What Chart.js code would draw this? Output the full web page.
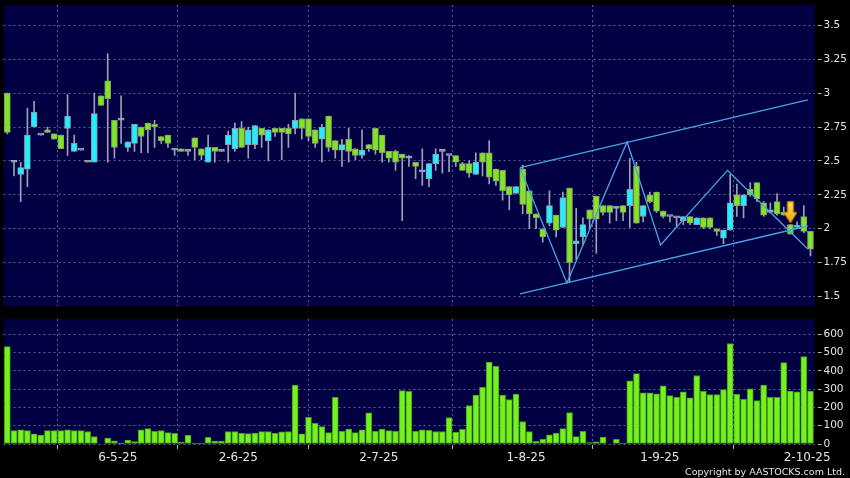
<!DOCTYPE html>
<html>
<head>
<meta charset="utf-8">
<script src="https://cdn.jsdelivr.net/npm/chart.js@4.4.1/dist/chart.umd.min.js"></script>
<style>
  html, body { margin: 0; padding: 0; background: #000; }
  body { width: 850px; height: 478px; position: relative; overflow: hidden; font-family: "DejaVu Sans", sans-serif; }
  #priceChart { position: absolute; left: 0; top: 0; }
  #volumeChart { position: absolute; left: 0; top: 312px; }
  #copyright { position: absolute; right: 5px; top: 466px; line-height: 12px; color: #e6e6e6; font-size: 9.5px; }
</style>
</head>
<body>
<canvas id="priceChart" width="850" height="306"></canvas>
<canvas id="volumeChart" width="850" height="166"></canvas>
<div id="copyright">Copyright by AASTOCKS.com Ltd.</div>
<script>
// Daily OHLC (one entry per trading day, oldest first)
const opens = [
  3.00, 2.49, 2.40, 2.44, 2.75, 2.69, 2.73, 2.70, 2.69, 2.74, 2.57, 2.58, 2.49, 2.49, 2.98, 3.09, 2.80, 2.80, 2.60, 2.63,
  2.75, 2.78, 2.77, 2.68, 2.69, 2.58, 2.59, 2.57, 2.67, 2.59, 2.49, 2.60, 2.57, 2.62, 2.59, 2.74, 2.62, 2.62, 2.74, 2.65,
  2.74, 2.74, 2.74, 2.74, 2.81, 2.81, 2.73, 2.66, 2.83, 2.65, 2.58, 2.66, 2.59, 2.54, 2.62, 2.74, 2.69, 2.57, 2.57, 2.55,
  2.52, 2.49, 2.42, 2.37, 2.48, 2.57, 2.54, 2.54, 2.48, 2.48, 2.40, 2.56, 2.56, 2.44, 2.43, 2.31, 2.26, 2.44, 2.28, 2.11,
  2.00, 2.04, 2.10, 2.01, 2.30, 1.89, 1.94, 2.14, 2.24, 2.17, 2.17, 2.15, 2.17, 2.17, 2.46, 2.09, 2.25, 2.27, 2.13, 2.09,
  2.08, 2.06, 2.09, 2.03, 2.08, 2.08, 2.00, 1.93, 1.99, 2.25, 2.17, 2.29, 2.34, 2.19, 2.12, 2.20, 2.12, 2.03, 2.01, 2.09,
  1.98
];
const highs = [
  3.00, 2.50, 2.49, 2.89, 2.94, 2.69, 2.75, 2.70, 2.69, 2.99, 2.69, 2.58, 2.49, 3.00, 2.98, 3.29, 2.80, 2.98, 2.64, 2.77,
  2.75, 2.78, 2.80, 2.68, 2.69, 2.59, 2.59, 2.57, 2.67, 2.59, 2.69, 2.60, 2.57, 2.72, 2.78, 2.79, 2.75, 2.76, 2.74, 2.73,
  2.74, 2.74, 2.77, 3.00, 2.81, 2.81, 2.73, 2.77, 2.83, 2.65, 2.66, 2.74, 2.59, 2.73, 2.62, 2.74, 2.69, 2.57, 2.58, 2.55,
  2.54, 2.49, 2.59, 2.48, 2.59, 2.57, 2.54, 2.54, 2.49, 2.50, 2.56, 2.56, 2.65, 2.44, 2.43, 2.31, 2.31, 2.47, 2.28, 2.11,
  2.00, 2.28, 2.10, 2.27, 2.30, 2.15, 2.08, 2.14, 2.24, 2.17, 2.17, 2.16, 2.17, 2.52, 2.49, 2.17, 2.27, 2.27, 2.13, 2.09,
  2.08, 2.09, 2.09, 2.08, 2.08, 2.08, 2.00, 1.99, 2.40, 2.33, 2.25, 2.34, 2.34, 2.20, 2.19, 2.26, 2.16, 2.03, 2.05, 2.17,
  1.98
];
const lows = [
  2.70, 2.39, 2.20, 2.31, 2.75, 2.69, 2.71, 2.66, 2.59, 2.54, 2.57, 2.58, 2.49, 2.49, 2.91, 2.49, 2.52, 2.63, 2.57, 2.57,
  2.56, 2.56, 2.60, 2.63, 2.60, 2.54, 2.57, 2.54, 2.51, 2.51, 2.49, 2.49, 2.57, 2.49, 2.57, 2.60, 2.52, 2.59, 2.60, 2.50,
  2.68, 2.51, 2.60, 2.70, 2.66, 2.65, 2.60, 2.49, 2.57, 2.52, 2.46, 2.49, 2.51, 2.52, 2.57, 2.55, 2.49, 2.49, 2.43, 2.06,
  2.46, 2.37, 2.32, 2.31, 2.43, 2.41, 2.42, 2.46, 2.43, 2.38, 2.40, 2.39, 2.33, 2.32, 2.21, 2.14, 2.26, 2.11, 2.00, 2.00,
  1.90, 2.02, 1.94, 2.01, 1.61, 1.77, 1.88, 2.00, 1.82, 2.10, 2.04, 2.06, 2.06, 2.01, 2.04, 2.05, 2.19, 2.12, 2.08, 2.05,
  2.01, 2.03, 2.03, 2.03, 2.00, 2.00, 1.95, 1.89, 1.99, 2.09, 2.08, 2.24, 2.20, 2.09, 2.12, 2.10, 2.10, 1.96, 2.00, 1.97,
  1.80
];
const closes = [
  2.71, 2.49, 2.45, 2.69, 2.86, 2.69, 2.71, 2.66, 2.59, 2.83, 2.63, 2.58, 2.49, 2.85, 2.91, 2.96, 2.60, 2.80, 2.64, 2.77,
  2.68, 2.73, 2.75, 2.65, 2.63, 2.59, 2.57, 2.57, 2.60, 2.54, 2.60, 2.57, 2.57, 2.69, 2.74, 2.60, 2.73, 2.76, 2.69, 2.73,
  2.71, 2.71, 2.70, 2.80, 2.74, 2.68, 2.63, 2.75, 2.60, 2.58, 2.62, 2.57, 2.54, 2.58, 2.59, 2.58, 2.56, 2.52, 2.49, 2.52,
  2.52, 2.46, 2.42, 2.48, 2.55, 2.57, 2.54, 2.49, 2.43, 2.41, 2.49, 2.49, 2.38, 2.35, 2.28, 2.25, 2.31, 2.18, 2.11, 2.08,
  1.94, 2.17, 1.99, 2.23, 1.75, 1.91, 2.03, 2.07, 2.07, 2.12, 2.12, 2.16, 2.12, 2.29, 2.04, 2.17, 2.20, 2.13, 2.09, 2.09,
  2.08, 2.09, 2.04, 2.08, 2.01, 2.01, 1.98, 1.99, 2.19, 2.17, 2.25, 2.25, 2.22, 2.10, 2.14, 2.11, 2.10, 1.96, 2.02, 1.98,
  1.85
];
// Daily volume
const volumes = [
  533, 73, 78, 73, 55, 49, 73, 73, 73, 77, 73, 73, 68, 40, 0, 33, 18, 2, 22, 13,
  78, 84, 69, 73, 62, 58, 9, 47, 5, 5, 36, 16, 16, 68, 68, 58, 57, 60, 68, 68,
  58, 66, 68, 323, 55, 146, 113, 95, 62, 255, 69, 82, 62, 78, 170, 69, 82, 73, 69, 292,
  288, 69, 77, 75, 68, 68, 145, 65, 80, 210, 268, 310, 448, 425, 268, 243, 273, 123, 68, 15,
  25, 50, 60, 85, 172, 40, 70, 8, 12, 38, 0, 25, 5, 345, 385, 280, 280, 275, 318, 265,
  255, 285, 252, 375, 288, 270, 270, 298, 550, 272, 245, 302, 238, 322, 255, 255, 445, 290, 285, 478,
  290
];

// Date labels and the day they fall after
const tickDays = [16, 34, 55, 77, 97, 119];
const tickLabels = ["6-5-25", "2-6-25", "2-7-25", "1-8-25", "1-9-25", "2-10-25"];
const priceTicks = [1.5, 1.75, 2, 2.25, 2.5, 2.75, 3, 3.25, 3.5];
const volumeTicks = [0, 100, 200, 300, 400, 500, 600];

// Zigzag + channel drawn on the price panel
const zigzagDays = [77, 84, 93, 98, 108, 120];
const zigzagPrices = [2.45, 1.60, 2.64, 1.88, 2.43, 1.85];
const channelDays = [77, 120];
const channelUpper = [2.45, 2.95];
const channelLower = [1.52, 2.02];
const signalDay = 117;
const signalPrice = 2.12;

// Colours
const NAVY = "#000042";
const GRID = "rgba(125,125,175,0.75)";
const TEXT = "#e4e4e4";
const LINE_BLUE = "#4aa2e4";
const FONT = "DejaVu Sans";

const X_MIN = -0.57;
const X_MAX = 120.6;
const lineShift = -0.4; // trend lines sit a little left of the candle centre

// Fill the plot area with the dark navy background
const plotBg = {
  id: "plotBg",
  beforeDraw(chart) {
    const { ctx, chartArea: a } = chart;
    ctx.save();
    ctx.fillStyle = NAVY;
    ctx.fillRect(a.left, a.top, a.right - a.left, a.bottom - a.top);
    ctx.restore();
  }
};

// Little yellow "down" arrow used as a point style
function makeArrow() {
  const c = document.createElement("canvas");
  c.width = 14;
  c.height = 22;
  const g = c.getContext("2d");
  const grad = g.createLinearGradient(0, 0, 0, 22);
  grad.addColorStop(0, "#ffe25a");
  grad.addColorStop(1, "#f2a200");
  g.fillStyle = grad;
  g.strokeStyle = "#c98400";
  g.lineWidth = 1;
  g.beginPath();
  g.moveTo(4, 0.5);
  g.lineTo(10, 0.5);
  g.lineTo(10, 11);
  g.lineTo(13.5, 11);
  g.lineTo(7, 21.5);
  g.lineTo(0.5, 11);
  g.lineTo(4, 11);
  g.closePath();
  g.fill();
  g.stroke();
  return c;
}

function xTicks(scale) {
  scale.ticks = tickDays.map(d => ({ value: d + 0.5 }));
}

// keep Chart.js from reserving extra room for overflowing labels
function noPad(scale) {
  scale.paddingTop = 0;
  scale.paddingBottom = 0;
  scale.paddingLeft = 0;
  scale.paddingRight = 0;
}

function candleColour(i) {
  if (opens[i] === closes[i]) return "#a4a4b8";
  return closes[i] > opens[i] ? "#22eefc" : "#7fe626";
}
function candleBorder(i) {
  if (opens[i] === closes[i]) return "#a4a4b8";
  return closes[i] > opens[i] ? "#8a9cb0" : "#8a9a66";
}

function createPriceChart() {
  const days = opens.map((_, i) => i);
  const ctx = document.getElementById("priceChart").getContext("2d");

  new Chart(ctx, {
    type: "bar",
    data: {
      datasets: [
        {
          type: "line",
          data: [{ x: signalDay, y: signalPrice }],
          showLine: false,
          pointStyle: makeArrow(),
          pointRadius: 8,
          order: 0
        },
        {
          type: "line",
          data: zigzagDays.map((d, k) => ({ x: d + lineShift, y: zigzagPrices[k] })),
          borderColor: LINE_BLUE,
          borderWidth: 1.3,
          pointRadius: 0,
          tension: 0,
          order: 1
        },
        {
          type: "line",
          data: channelDays.map((d, k) => ({ x: d + lineShift, y: channelUpper[k] })),
          borderColor: LINE_BLUE,
          borderWidth: 1.3,
          pointRadius: 0,
          order: 1
        },
        {
          type: "line",
          data: channelDays.map((d, k) => ({ x: d + lineShift, y: channelLower[k] })),
          borderColor: LINE_BLUE,
          borderWidth: 1.3,
          pointRadius: 0,
          order: 1
        },
        {
          // candle bodies
          data: days.map(i => ({ x: i, y: [opens[i], closes[i]] })),
          backgroundColor: days.map(candleColour),
          borderColor: days.map(candleBorder),
          borderWidth: 1,
          borderSkipped: false,
          barThickness: 6,
          minBarLength: 2,
          grouped: false,
          order: 2
        },
        {
          // wicks
          data: days.map(i => ({ x: i, y: [lows[i], highs[i]] })),
          backgroundColor: "#9e9eb6",
          borderWidth: 0,
          barThickness: 1,
          grouped: false,
          order: 3
        }
      ]
    },
    options: {
      responsive: false,
      maintainAspectRatio: false,
      animation: false,
      layout: { autoPadding: false, padding: { left: 3.5, top: 5, right: 0, bottom: 0 } },
      plugins: { legend: { display: false }, tooltip: { enabled: false } },
      scales: {
        x: {
          type: "linear",
          min: X_MIN,
          max: X_MAX,
          offset: false,
          afterBuildTicks: xTicks,
          afterFit(scale) { scale.height = 0; noPad(scale); },
          ticks: { display: false },
          grid: { color: GRID, drawTicks: false },
          border: { display: false, dash: [2, 3] }
        },
        y: {
          position: "right",
          min: 1.43,
          max: 3.65,
          afterBuildTicks(scale) { scale.ticks = priceTicks.map(v => ({ value: v })); },
          afterFit(scale) { scale.width = 35.5; noPad(scale); },
          ticks: {
            color: TEXT,
            padding: 2,
            font: { family: FONT, size: 10.5 },
            callback: v => String(v)
          },
          grid: {
            color: GRID,
            tickColor: "#bbbbbb",
            tickLength: 7,
            tickBorderDash: [0, 3, 4, 20]
          },
          border: { display: false, dash: [2, 3] }
        }
      }
    },
    plugins: [plotBg]
  });
}

function createVolumeChart() {
  const ctx = document.getElementById("volumeChart").getContext("2d");

  new Chart(ctx, {
    type: "bar",
    data: {
      datasets: [{
        data: volumes.map((v, i) => ({ x: i, y: v })),
        backgroundColor: "#72f21e",
        borderColor: "#4f9c18",
        borderWidth: 1,
        borderSkipped: false,
        barThickness: 6
      }]
    },
    options: {
      responsive: false,
      maintainAspectRatio: false,
      animation: false,
      layout: { autoPadding: false, padding: { left: 3.5, top: 7, right: 0, bottom: 0 } },
      plugins: { legend: { display: false }, tooltip: { enabled: false } },
      scales: {
        x: {
          type: "linear",
          min: X_MIN,
          max: X_MAX,
          offset: false,
          afterBuildTicks: xTicks,
          afterFit(scale) { scale.height = 34; noPad(scale); },
          ticks: {
            color: TEXT,
            padding: 2,
            maxRotation: 0,
            autoSkip: false,
            font: { family: FONT, size: 12 },
            callback: (v, i) => tickLabels[i]
          },
          grid: {
            color: GRID,
            tickColor: "#bbbbbb",
            tickLength: 5,
            tickBorderDash: [0, 1, 4, 20]
          },
          border: { display: false, dash: [2, 3] }
        },
        y: {
          position: "right",
          min: 0,
          max: 684,
          afterBuildTicks(scale) { scale.ticks = volumeTicks.map(v => ({ value: v })); },
          afterFit(scale) { scale.width = 35.5; noPad(scale); },
          ticks: {
            color: TEXT,
            padding: 2,
            font: { family: FONT, size: 10.5 },
            callback: v => String(v)
          },
          grid: {
            color: GRID,
            tickColor: "#bbbbbb",
            tickLength: 7,
            tickBorderDash: [0, 3, 4, 20]
          },
          border: { display: false, dash: [2, 3] }
        }
      }
    },
    plugins: [plotBg]
  });
}

createPriceChart();
createVolumeChart();
</script>
</body>
</html>
